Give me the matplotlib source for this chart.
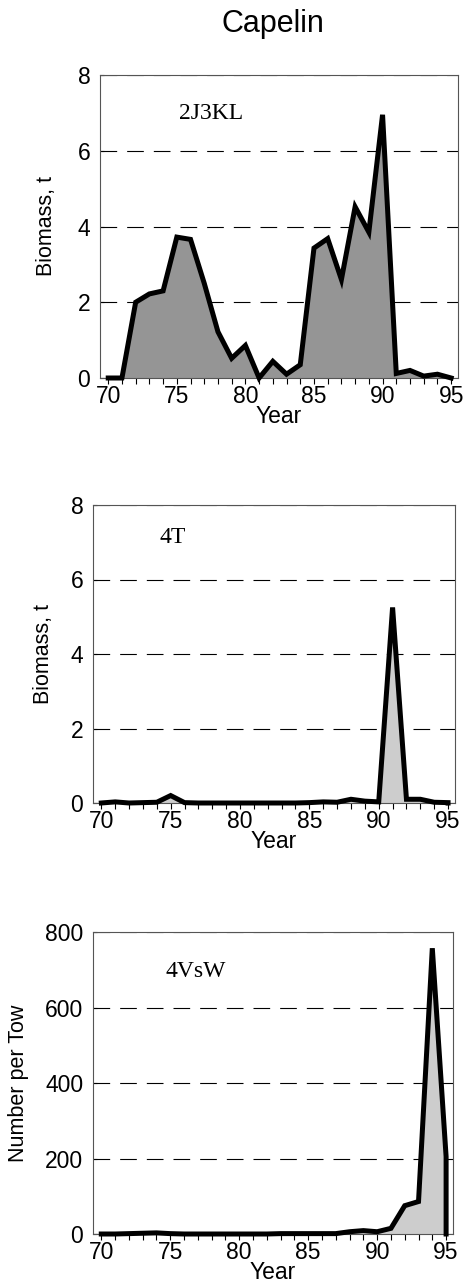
import numpy as np
import matplotlib
matplotlib.use("Agg")
import matplotlib.pyplot as plt

plt.rcParams['font.family'] = ['Liberation Sans', 'DejaVu Sans']

years = np.arange(70, 96)

# 2J3KL biomass, t
bio_2j3kl = [0, 0, 2.0, 2.22, 2.3, 3.72, 3.66, 2.5, 1.22, 0.52, 0.86, 0.0,
             0.44, 0.1, 0.35, 3.43, 3.68, 2.6, 4.52, 3.85, 6.95, 0.12,
             0.2, 0.05, 0.1, 0.0]
# 4T biomass, t
bio_4t = [0.0, 0.03, 0.0, 0.01, 0.02, 0.2, 0.01, 0.0, 0.0, 0.0, 0.0, 0.0,
          0.0, 0.0, 0.0, 0.01, 0.03, 0.02, 0.1, 0.05, 0.03, 5.25,
          0.1, 0.1, 0.02, 0.01]
# 4VsW number per tow
num_4vsw = [0, 0, 1, 2, 3, 1, 0, 0, 0, 0, 0, 0, 0, 1, 1, 1, 1, 1, 6, 9, 6,
            15, 75, 86, 757, 205]

panels = [
    ("2J3KL", bio_2j3kl, (0, 8), [0, 2, 4, 6, 8], "Biomass, t", "#959595",
     [100/467, 1 - 378/1284, 358/467, 303/1284], (0.22, 0.855), -0.12),
    ("4T", bio_4t, (0, 8), [0, 2, 4, 6, 8], "Biomass, t", "#cdcdcd",
     [93/467, 1 - 803/1284, 362/467, 298/1284], (0.185, 0.872), -0.108),
    ("4VsW", num_4vsw, (0, 800), [0, 200, 400, 600, 800], "Number per Tow",
     "#cdcdcd", [93/467, 1 - 1234/1284, 360/467, 302/1284], (0.2, 0.851),
     -0.178),
]

fig = plt.figure(figsize=(4.67, 12.84), dpi=100)
fig.text(0.585, 1 - 24/1284, "Capelin", ha="center", va="center", fontsize=22)

for name, vals, ylim, yt, ylab, fc, rect, tpos, lx in panels:
    ax = fig.add_axes(rect)
    ax.fill_between(years, 0, vals, facecolor=fc, lw=0, zorder=2)
    # outline, closed down to zero at the last year
    lx_ = np.r_[years, years[-1]]
    ly_ = np.r_[vals, 0]
    ax.plot(lx_, ly_, color="black", lw=3.6, solid_joinstyle="miter",
            clip_on=False, zorder=3)
    ax.set_xlim(69.4, 95.5)
    ax.set_ylim(*ylim)
    ax.set_yticks(yt)
    ax.set_xticks([70, 75, 80, 85, 90, 95])
    ax.set_xticks(years, minor=True)
    ax.grid(axis="y", color="black", lw=0.8, ls=(0, (15, 9)), zorder=1)
    for s in ax.spines.values():
        s.set_color("#555555")
        s.set_linewidth(0.8)
    ax.tick_params(axis="x", which="both", direction="out", length=4,
                   width=0.8, labelsize=16.5, pad=1)
    ax.tick_params(axis="y", direction="in", length=3, width=0.8,
                   labelsize=16.5, pad=7)
    ax.set_xlabel("Year", fontsize=16.5, labelpad=-2)
    ax.set_ylabel(ylab, fontsize=15.5)
    ax.yaxis.set_label_coords(lx, 0.5)
    ax.text(tpos[0], tpos[1], name, transform=ax.transAxes,
            family=["Liberation Serif", "DejaVu Serif"], fontsize=17)

fig.savefig("out.png", dpi=100)
